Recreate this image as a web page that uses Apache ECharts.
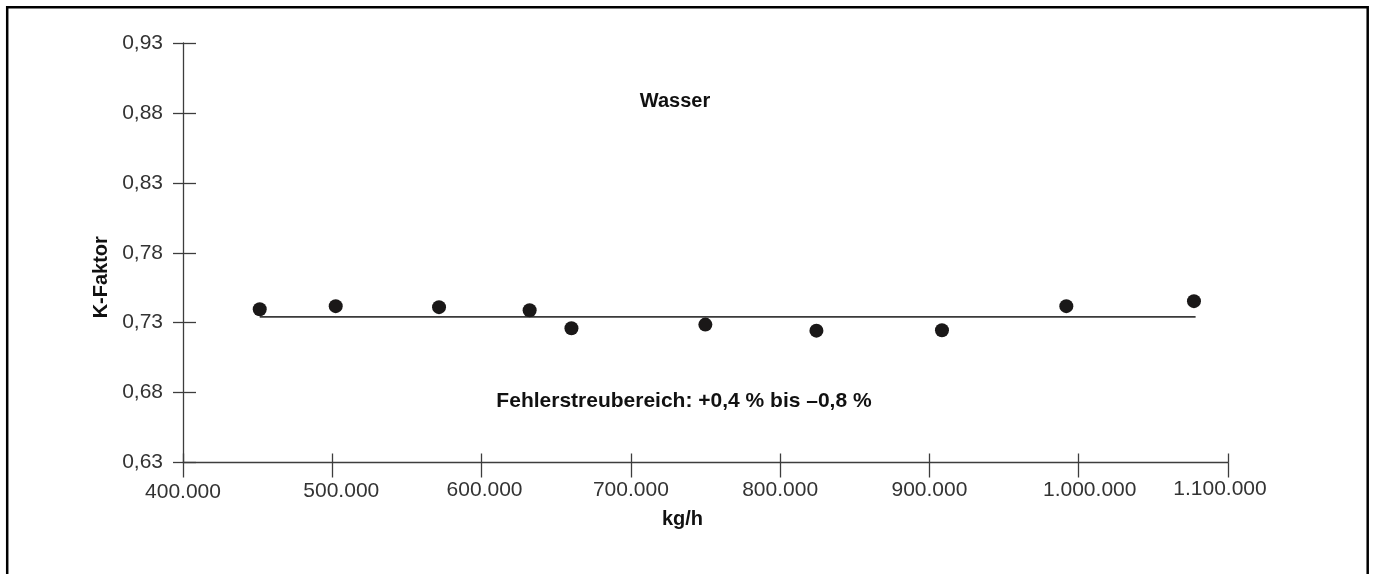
<!DOCTYPE html>
<html>
<head>
<meta charset="utf-8">
<script src="https://cdn.jsdelivr.net/npm/echarts@6/dist/echarts.min.js"></script>
<style>
  html, body { margin: 0; padding: 0; background: #fff; }
  #chart { width: 1373px; height: 574px; }
</style>
</head>
<body>
<div id="chart"></div>
<script>
// Messpunkte (Wasser)
var massFlow = [451400, 502300, 571500, 632200, 660200, 749900, 824300, 908400, 991700, 1077200];
var kFactor = [0.7396, 0.7418, 0.7411, 0.7389, 0.7260, 0.7286, 0.7243, 0.7246, 0.7418, 0.7454];

// Mittelwert-Gerade
var fitFlow = [451400, 1078300];
var fitK = [0.7341, 0.7341];

// Achsenteilung
var flowTicks = [400000, 500000, 600000, 700000, 800000, 900000, 1000000, 1100000];
var kTicks = [0.63, 0.68, 0.73, 0.78, 0.83, 0.88, 0.93];

var FONT = '"Liberation Sans", Arial, Helvetica, sans-serif';
var AXIS_COLOR = '#3d3d3d';
var LABEL_COLOR = '#333';

// kleine Verschiebung der x-Beschriftungen wie im Original (px)
var nudgeX = [0, 9, 3, 0, 0, 0, 11, -8];
var nudgeY = [7, 5, 3, 3, 3, 3, 2.5, 0];

function fmtFlow(v) {
  return String(Math.round(v)).replace(/\B(?=(\d{3})+(?!\d))/g, '.');
}
function fmtK(v) {
  return v.toFixed(2).replace('.', ',');
}

var rich = {};
flowTicks.forEach(function (t, i) {
  var dx = nudgeX[i];
  rich['n' + i] = {
    fontSize: 21,
    fontFamily: FONT,
    color: LABEL_COLOR,
    lineHeight: 21,
    padding: [nudgeY[i], dx < 0 ? -2 * dx : 0, 0, dx > 0 ? 2 * dx : 0]
  };
});

var scatterData = massFlow.map(function (x, i) { return [x, kFactor[i]]; });
var fitData = fitFlow.map(function (x, i) { return [x, fitK[i]]; });

var chart = echarts.init(document.getElementById('chart'));

var option = {
  animation: false,
  backgroundColor: '#fff',
  grid: { left: 183, top: 43, width: 1045, height: 419.5 },
  xAxis: [
    {
      type: 'value',
      position: 'bottom',
      min: 400000,
      max: 1100000,
      axisLine: { lineStyle: { color: AXIS_COLOR, width: 1.3 } },
      axisTick: { customValues: flowTicks, length: 15, lineStyle: { color: AXIS_COLOR, width: 1.3 } },
      axisLabel: {
        customValues: flowTicks,
        margin: 16,
        color: LABEL_COLOR,
        fontSize: 21,
        fontFamily: FONT,
        formatter: function (v) {
          var i = Math.round((v - 400000) / 100000);
          return '{n' + i + '|' + fmtFlow(v) + '}';
        },
        rich: rich
      },
      splitLine: { show: false },
      name: 'kg/h',
      nameLocation: 'middle',
      nameGap: 47,
      nameTextStyle: { fontWeight: 'bold', fontSize: 20, fontFamily: FONT, color: '#111', padding: [0, 46, 0, 0] }
    },
    {
      // Innenstriche der x-Achse
      type: 'value',
      position: 'bottom',
      min: 400000,
      max: 1100000,
      axisLine: { show: false },
      axisTick: { customValues: flowTicks, inside: true, length: 9, lineStyle: { color: AXIS_COLOR, width: 1.3 } },
      axisLabel: { show: false },
      splitLine: { show: false }
    }
  ],
  yAxis: [
    {
      type: 'value',
      position: 'left',
      min: 0.63,
      max: 0.93,
      axisLine: { show: true, lineStyle: { color: AXIS_COLOR, width: 1.3 } },
      axisTick: { show: true, customValues: kTicks, length: 10, lineStyle: { color: AXIS_COLOR, width: 1.3 } },
      axisLabel: {
        customValues: kTicks,
        margin: 20,
        color: LABEL_COLOR,
        fontSize: 21,
        fontFamily: FONT,
        formatter: fmtK
      },
      splitLine: { show: false },
      name: 'K-Faktor',
      nameLocation: 'middle',
      nameGap: 72,
      nameTextStyle: { fontWeight: 'bold', fontSize: 20, fontFamily: FONT, color: '#111', padding: [0, 49, 0, 0] }
    },
    {
      // Innenstriche der y-Achse
      type: 'value',
      position: 'left',
      min: 0.63,
      max: 0.93,
      axisLine: { show: false },
      axisTick: { show: true, customValues: kTicks, inside: true, length: 13, lineStyle: { color: AXIS_COLOR, width: 1.3 } },
      axisLabel: { show: false },
      splitLine: { show: false }
    }
  ],
  series: [
    {
      type: 'line',
      data: fitData,
      symbol: 'none',
      lineStyle: { color: '#3a3a3a', width: 1.8 },
      z: 2
    },
    {
      type: 'scatter',
      data: scatterData,
      symbolSize: 14,
      itemStyle: { color: '#1a1818', opacity: 1 },
      z: 3
    }
  ],
  graphic: [
    {
      type: 'rect',
      shape: { x: 7.2, y: 7.2, width: 1360.5, height: 620 },
      style: { fill: 'none', stroke: '#000', lineWidth: 2.5 },
      silent: true
    },
    {
      type: 'text',
      x: 675,
      y: 101,
      style: { text: 'Wasser', fontSize: 20, fontWeight: 'bold', fontFamily: FONT, fill: '#111', align: 'center', verticalAlign: 'middle' }
    },
    {
      type: 'text',
      x: 684,
      y: 401,
      style: { text: 'Fehlerstreubereich: +0,4 % bis \u20130,8 %', fontSize: 21, fontWeight: 'bold', fontFamily: FONT, fill: '#111', align: 'center', verticalAlign: 'middle' }
    }
  ]
};

chart.setOption(option);
</script>
</body>
</html>
